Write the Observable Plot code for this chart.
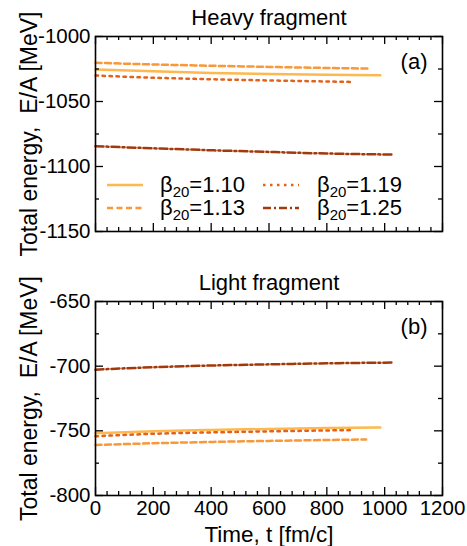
<!DOCTYPE html>
<html><head><meta charset="utf-8">
<script src="https://cdn.jsdelivr.net/npm/d3@7"></script>
<script src="https://cdn.jsdelivr.net/npm/@observablehq/plot@0.6"></script>
<style>
body{margin:0;background:#fff;}
#chart{position:relative;width:467px;font-family:"Liberation Sans",Arial,Helvetica,sans-serif;}
#chart svg{display:block;overflow:visible;}
</style></head><body><div id="chart"></div>
<script>
// ---- data ----
const betaLabels = ["1.10", "1.13", "1.19", "1.25"];
const seriesColors = ["#fdb94f", "#f89838", "#e2621c", "#a3380a"];
const seriesDash = [null, "6,3.5", "2.5,4.5", "8,3,2,3"];
const timeGrid = [0, 200, 400, 600, 800];

// Heavy fragment (a)
const heavyEnd = [985, 940, 894, 1024];
const heavyE110 = [-1025.3, -1026.8, -1028.0, -1028.8, -1029.4, -1029.8];
const heavyE113 = [-1020.2, -1021.5, -1022.5, -1023.4, -1024.2, -1024.7];
const heavyE119 = [-1030.0, -1031.7, -1032.9, -1033.8, -1034.6, -1035.0];
const heavyE125 = [-1084.4, -1086.0, -1087.5, -1088.8, -1090.0, -1090.8];

// Light fragment (b)
const lightEnd = [985, 936, 894, 1024];
const lightE110 = [-751.8, -750.3, -749.3, -748.5, -747.9, -747.4];
const lightE113 = [-761.0, -759.6, -758.6, -757.8, -757.1, -756.7];
const lightE119 = [-754.2, -752.3, -751.2, -750.4, -749.7, -749.4];
const lightE125 = [-702.7, -700.8, -699.5, -698.6, -697.8, -697.2];

const xTicks = [0, 200, 400, 600, 800, 1000, 1200];
const heavyYTicks = [-1000, -1050, -1100, -1150];
const lightYTicks = [-650, -700, -750, -800];

function buildRows(ends, energies) {
  const rows = [];
  energies.forEach((es, i) => {
    const ts = [...timeGrid, ends[i]];
    ts.forEach((t, j) => rows.push({series: i, t, e: es[j]}));
  });
  return rows;
}

const W = 467, ML = 95, MR = 25;
const font = "Liberation Sans, Arial, Helvetica, sans-serif";
const plainFmt = d => `${d}`;

function panel({height, marginTop, marginBottom, yTicks, rows, title, tag, bottomAxis}) {
  const yDomain = [d3.min(yTicks), d3.max(yTicks)];
  const innerH = height - marginTop - marginBottom;
  const innerW = W - ML - MR;
  const xMinor = d3.range(0, 1201, 40);
  const yMinor = d3.range(yDomain[0], yDomain[1] + 1, 25);
  const majorLen = 8, minorLen = 4;
  const marks = [];
  betaLabels.forEach((b, i) => {
    marks.push(Plot.line(rows.filter(r => r.series === i), {
      x: "t", y: "e", stroke: seriesColors[i], strokeWidth: 2.5,
      strokeDasharray: seriesDash[i] || undefined, curve: "monotone-x"
    }));
  });
  const isMajX = v => v % 200 === 0;
  const isMajY = v => v % 50 === 0;
  for (const [maj, len] of [[true, majorLen], [false, minorLen]]) {
    const xs = xMinor.filter(v => isMajX(v) === maj);
    const ys = yMinor.filter(v => isMajY(v) === maj);
    marks.push(Plot.tickX(xs, {x: d => d, stroke: "#000", strokeWidth: 1.3, insetTop: innerH - len}));
    marks.push(Plot.tickX(xs, {x: d => d, stroke: "#000", strokeWidth: 1.3, insetBottom: innerH - len}));
    marks.push(Plot.tickY(ys, {y: d => d, stroke: "#000", strokeWidth: 1.3, insetRight: innerW - len}));
    marks.push(Plot.tickY(ys, {y: d => d, stroke: "#000", strokeWidth: 1.3, insetLeft: innerW - len}));
  }
  marks.push(Plot.frame({stroke: "#000", strokeWidth: 1.6}));
  marks.push(Plot.axisY(yTicks, {tickSize: 0, tickPadding: 5, fontSize: 20.5, label: null, fill: "#000", tickFormat: plainFmt}));
  if (bottomAxis) {
    marks.push(Plot.axisX(xTicks, {tickSize: 0, tickPadding: 5, fontSize: 20.5, label: null, fill: "#000", tickFormat: plainFmt}));
    marks.push(Plot.text(["Time, t [fm/c]"], {frameAnchor: "bottom", dy: 39, lineAnchor: "middle", fontSize: 22.5, fill: "#000"}));
  }
  marks.push(Plot.text([title], {frameAnchor: "top", dy: -12, lineAnchor: "bottom", fontSize: 22, fill: "#000"}));
  marks.push(Plot.text([tag], {frameAnchor: "top-right", dx: -15, dy: 17, lineAnchor: "top", textAnchor: "end", fontSize: 22, fill: "#000"}));
  marks.push(Plot.text(["Total energy,  E/A [MeV]"], {frameAnchor: "left", rotate: -90, dx: -75, lineAnchor: "top", textAnchor: "middle", fontSize: 23, fill: "#000"}));
  return Plot.plot({
    width: W, height, marginTop, marginBottom, marginLeft: ML, marginRight: MR,
    style: {fontFamily: font, background: "#fff", color: "#000"},
    x: {domain: [0, 1200], axis: null},
    y: {domain: yDomain, axis: null},
    marks
  });
}

const chart = document.getElementById("chart");
const topPanel = panel({height: 250, marginTop: 36, marginBottom: 19, yTicks: heavyYTicks,
  rows: buildRows(heavyEnd, [heavyE110, heavyE113, heavyE119, heavyE125]),
  title: "Heavy fragment", tag: "(a)", bottomAxis: false});
const botPanel = panel({height: 296, marginTop: 51, marginBottom: 51, yTicks: lightYTicks,
  rows: buildRows(lightEnd, [lightE110, lightE113, lightE119, lightE125]),
  title: "Light fragment", tag: "(b)", bottomAxis: true});
chart.appendChild(topPanel);
chart.appendChild(botPanel);

// legend inside panel (a)
const svg = d3.select(topPanel);
const lg = svg.append("g").attr("font-family", font).attr("font-size", 22).attr("text-anchor", "start");
const legendCols = [{x0: 107, x1: 143, tx: 160}, {x0: 263, x1: 299, tx: 317}];
const legendRows = [185, 208];
const order = [[0, 0, 0], [1, 0, 1], [2, 1, 0], [3, 1, 1]]; // series, col, row
order.forEach(([s, c, r]) => {
  const col = legendCols[c], y = legendRows[r];
  lg.append("line").attr("x1", col.x0).attr("x2", col.x1).attr("y1", y).attr("y2", y)
    .attr("stroke", seriesColors[s]).attr("stroke-width", 2.5)
    .attr("stroke-dasharray", seriesDash[s]);
  const t = lg.append("text").attr("x", col.tx).attr("y", y + 7).attr("fill", "#000").attr("text-anchor", "start");
  t.append("tspan").text("β");
  t.append("tspan").attr("font-size", 15).attr("dy", 5).text("20");
  t.append("tspan").attr("dy", -5).text("=" + betaLabels[s]);
});
</script></body></html>
